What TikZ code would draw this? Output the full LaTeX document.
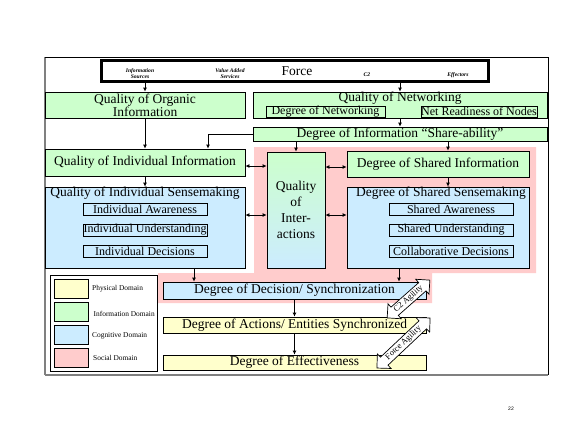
\documentclass[tikz,border=0pt]{standalone}
\usepackage{fontspec}
\setmainfont{Liberation Serif}
\newfontfamily\numfont{Liberation Sans}
\usetikzlibrary{arrows.meta}
\definecolor{infogreen}{RGB}{204,255,204}
\definecolor{cogblue}{RGB}{204,236,255}
\definecolor{physyellow}{RGB}{255,255,204}
\definecolor{socpink}{RGB}{255,204,204}
\definecolor{framegray}{RGB}{128,128,128}
% block double arrow of half-length #1 centred on the origin
\newcommand{\blockdoublearrow}[1]{%
  \filldraw[fill=white,draw=black,line width=0.7pt,line join=miter]
    (-#1,0) -- (-#1+10,-10) -- (-#1+10,-5.5) -- (#1-10,-5.5) -- (#1-10,-10)
    -- (#1,0) -- (#1-10,10) -- (#1-10,5.5) -- (-#1+10,5.5) -- (-#1+10,10) -- cycle;}
\begin{document}
\begin{tikzpicture}[x=1pt,y=-1pt,
  box/.style={draw=black,line width=0.8pt,inner sep=0pt,align=center,
    font=\fontsize{13.5}{14}\selectfont},
  sub/.style={draw=black,line width=0.8pt,inner sep=0pt,align=center,
    minimum height=12pt,font=\fontsize{12}{12}\selectfont},
  green/.style={box,fill=infogreen},
  blue/.style={box,fill=cogblue},
  yellow/.style={box,fill=physyellow},
  title/.style={anchor=north,inner sep=0pt,font=\fontsize{13.5}{14}\selectfont},
  tiny/.style={inner sep=0pt,align=center,font=\fontsize{5.6}{6.6}\selectfont\bfseries\itshape},
  swatch/.style={draw=black,line width=0.8pt,minimum width=34pt,minimum height=19pt,inner sep=0pt},
  legtext/.style={anchor=west,inner sep=0pt,font=\fontsize{7.4}{8}\selectfont},
  arr/.style={line width=0.8pt,-{Latex[length=4pt,width=4pt]}},
  darr/.style={line width=0.8pt,{Latex[length=4pt,width=4pt]}-{Latex[length=4pt,width=4pt]}},
  agiltext/.style={inner sep=0pt,font=\fontsize{8.5}{9}\selectfont}
]
\useasboundingbox[fill=white] (0,0) rectangle (577,432);

% outer frame of the figure
\draw[framegray,line width=1.5pt] (45,57) -- (45,375);
\draw[framegray,line width=2pt] (45,375) -- (548,375);
\draw[black,line width=0.8pt] (45,57) -- (548,57) -- (548,375);

% social domain background
\fill[socpink] (254,147) -- (536,147) -- (536,273) -- (432,273) -- (432,303)
  -- (158,303) -- (158,273) -- (254,273) -- cycle;

% force box
\node[draw=black,line width=3.5pt,minimum width=387pt,minimum height=21pt,inner sep=0pt]
  (force) at (295,71) {};
\node[tiny] (infosrc) at (140,73.5) {Information\\Sources};
\node[tiny] (vas) at (230,73.5) {Value Added\\Services};
\node[inner sep=0pt,font=\fontsize{13.5}{14}\selectfont] (forcetxt) at (297,71.5) {Force};
\node[tiny] (ctwo) at (367,75) {C2};
\node[tiny] (effectors) at (458,75) {Effectors};

% information domain
\node[green,minimum width=200pt,minimum height=26pt,font=\fontsize{13.5}{13}\selectfont]
  (qoi) at (145,105) {Quality of Organic\\Information};
\node[green,minimum width=294pt,minimum height=26pt] (qon) at (400,105) {};
\node[title] (qontitle) at ([yshift=-0.5pt]qon.north) {Quality of Networking};
\node[sub,minimum width=119pt,minimum height=11pt] (dnet) at (325.5,111.5) {Degree of Networking};
\node[sub,minimum width=116pt,minimum height=11pt] (nrn) at (479,111.5) {Net Readiness of Nodes};
\node[green,minimum width=294pt,minimum height=14pt] (share) at (400,134)
  {Degree of Information “Share-ability”};
\node[green,minimum width=200pt,minimum height=27pt] (qii) at (145,162.5)
  {Quality of Individual Information};
\node[green,minimum width=182pt,minimum height=26pt] (dsi) at (438,164)
  {Degree of Shared Information};

% cognitive domain
\node[blue,minimum width=200pt,minimum height=81pt] (qism) at (145,227.5) {};
\node[title] (qismtitle) at ([yshift=-0.5pt]qism.north) {Quality of Individual Sensemaking};
\node[sub,minimum width=124pt] (ia) at (145,209) {Individual Awareness};
\node[sub,minimum width=124pt] (iu) at (145,230) {Individual Understanding};
\node[sub,minimum width=124pt] (idec) at (145,251.5) {Individual Decisions};

\node[blue,minimum width=182pt,minimum height=81pt] (dss) at (438,227.5) {};
\node[title] (dsstitle) at ([xshift=3pt,yshift=-0.5pt]dss.north) {Degree of Shared Sensemaking};
\node[sub,minimum width=124pt] (sa) at (451,209) {Shared Awareness};
\node[sub,minimum width=124pt] (su) at (451,230) {Shared Understanding};
\node[sub,minimum width=124pt] (cd) at (451,251.5) {Collaborative Decisions};

\node[box,minimum width=58pt,minimum height=116pt,top color=infogreen,bottom color=cogblue,
  font=\fontsize{13.5}{16}\selectfont] (qint) at (296,210) {Quality\\of\\Inter-\\actions};

\node[blue,minimum width=263pt,minimum height=17pt] (dds) at (294.5,290.5)
  {Degree of Decision/ Synchronization};

% physical domain
\node[yellow,minimum width=263pt,minimum height=16pt] (daes) at (294.5,325)
  {Degree of Actions/ Entities Synchronized};
\node[yellow,minimum width=263pt,minimum height=15pt] (de) at (294.5,362.5)
  {Degree of Effectiveness};

% legend
\node[draw=black,line width=0.8pt,fill=white,minimum width=107pt,minimum height=96pt,inner sep=0pt]
  (legend) at (103.5,323) {};
\node[swatch,fill=physyellow] (swy) at (71,288.5) {};
\node[swatch,fill=infogreen] (swg) at (71,311.5) {};
\node[swatch,fill=cogblue] (swb) at (71,334.5) {};
\node[swatch,fill=socpink] (swp) at (71,357.5) {};
\node[legtext] (lphys) at (92,289) {Physical Domain};
\node[legtext] (linfo) at (93.5,313.5) {Information Domain};
\node[legtext] (lcog) at (92,336) {Cognitive Domain};
\node[legtext] (lsoc) at (93,358) {Social Domain};

% connectors
\draw[arr] (force.south -| qoi.north) -- (qoi.north);
\draw[arr] (force.south -| qon.north) -- (qon.north);
\draw[arr] (qoi.south) -- (qii.north);
\draw[arr] (qon.south) -- (share.north);
\draw[arr] (share.west) -| ([xshift=63pt]qii.north);
\draw[arr] (share.south -| qint.north) -- (qint.north);
\draw[arr] ([xshift=10pt]dsi.north |- share.south) -- ([xshift=10pt]dsi.north);
\draw[arr] ([xshift=10pt]dsi.south) -- ([xshift=10pt]dss.north);
\draw[arr] (qii.south) -- (qism.north);
\draw[darr] ([yshift=-3.5pt]qii.east) -- ([yshift=-3.5pt]qii.east -| qint.west);
\draw[darr] ([yshift=12.5pt]qism.east) -- ([yshift=12.5pt]qism.east -| qint.west);
\draw[darr] ([yshift=-3pt]dsi.west -| qint.east) -- ([yshift=-3pt]dsi.west);
\draw[darr] ([yshift=12.5pt]dss.west -| qint.east) -- ([yshift=12.5pt]dss.west);
\draw[arr] ([xshift=49pt]qism.south) -- ([xshift=49pt]qism.south |- dds.north);
\draw[arr] ([xshift=-39pt]dss.south) -- ([xshift=-39pt]dss.south |- dds.north);
\draw[arr] (dds.south) -- (daes.north);
\draw[arr] (daes.south) -- (de.north);

% agility arrows
\begin{scope}[shift={(408.5,299)},rotate=41.5]
  \blockdoublearrow{28.5}
  \node[agiltext,rotate=41.5] (ctwoag) at (0,0) {C2 Agility};
\end{scope}
\begin{scope}[shift={(403.5,343)},rotate=43.3]
  \blockdoublearrow{36.5}
  \node[agiltext,rotate=43.3] (forceag) at (0,0) {Force Agility};
\end{scope}

% page number
\node[inner sep=0pt,font=\numfont\fontsize{5}{6}\selectfont] (pagenum) at (511,409) {22};
\end{tikzpicture}
\end{document}
